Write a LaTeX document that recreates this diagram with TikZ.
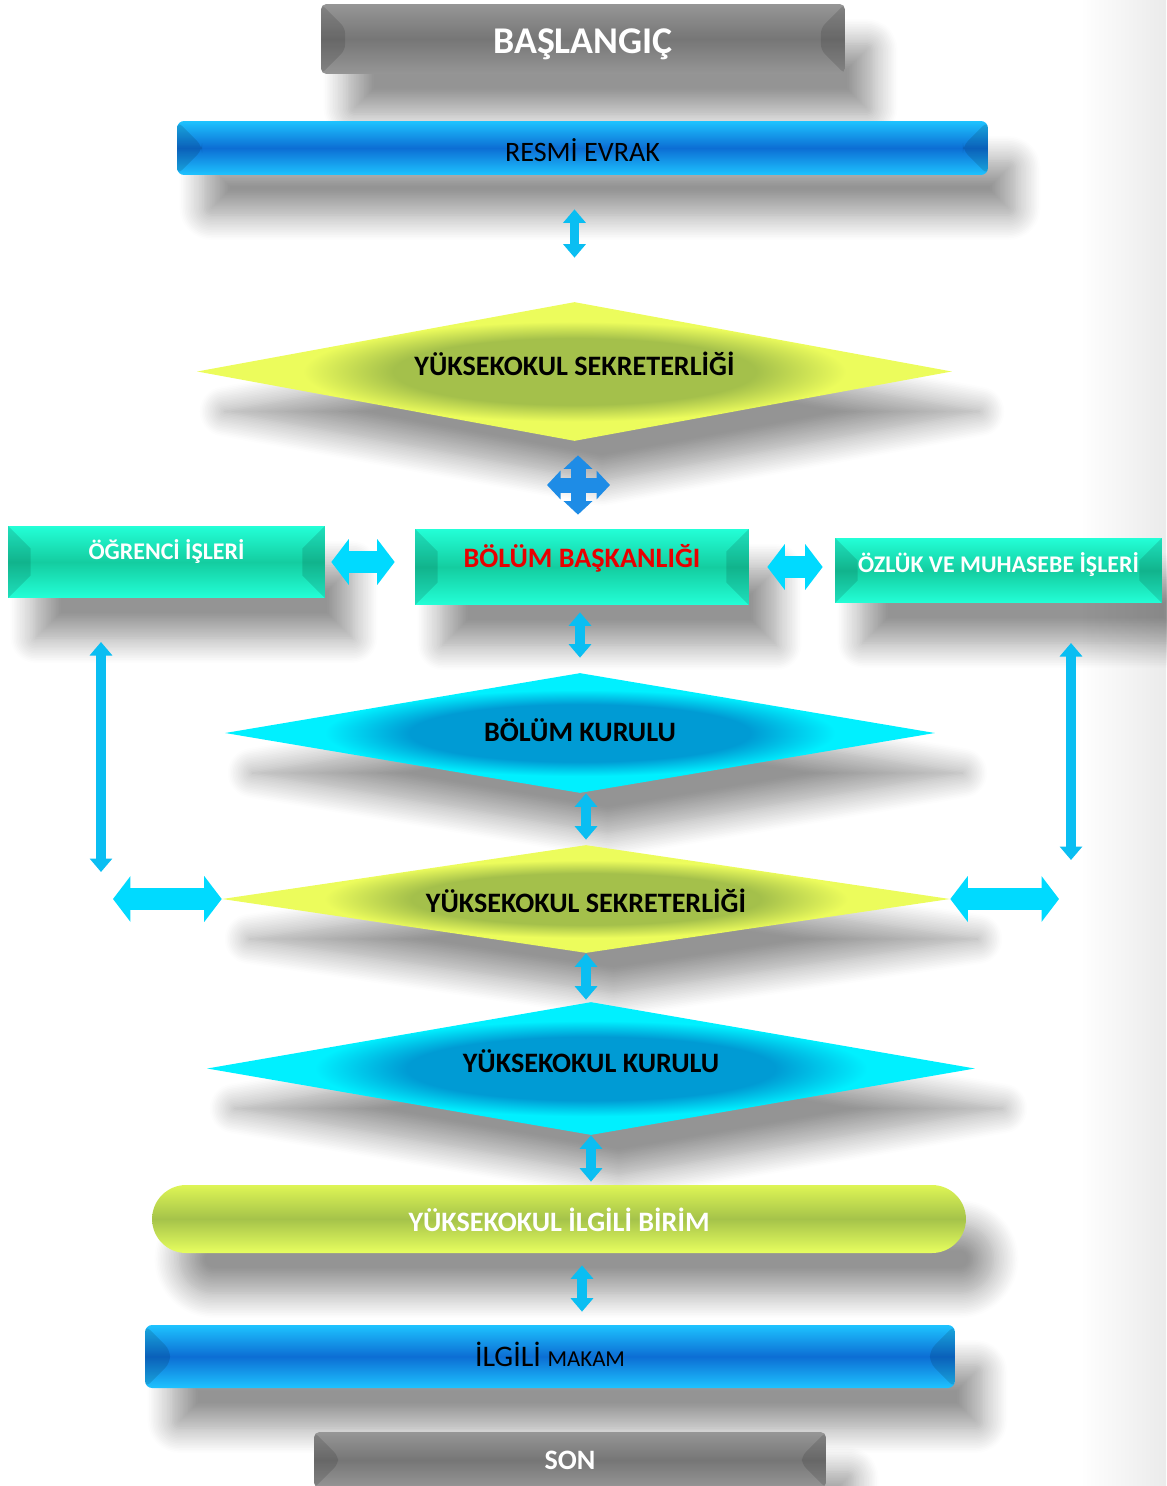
\documentclass[tikz,border=0pt]{standalone}
\usepackage{fontspec}
\setmainfont{Carlito}
\usetikzlibrary{shapes.geometric,arrows.meta,calc,shadows.blur}
\definecolor{grayhi}{RGB}{150,150,150}
\definecolor{graymid}{RGB}{118,118,118}
\definecolor{bluehi}{RGB}{30,195,255}
\definecolor{bluemid}{RGB}{12,110,212}
\definecolor{tealhi}{RGB}{35,255,215}
\definecolor{tealmid}{RGB}{20,205,160}
\definecolor{yelhi}{RGB}{236,252,92}
\definecolor{yelmid}{RGB}{164,192,75}
\definecolor{cyanhi}{RGB}{0,240,255}
\definecolor{cyanmid}{RGB}{0,155,212}
\definecolor{pillhi}{RGB}{222,245,85}
\definecolor{pillmid}{RGB}{165,195,74}
\definecolor{pilllo}{RGB}{232,255,95}
\definecolor{linkcyan}{RGB}{10,190,242}
\definecolor{fatcyan}{RGB}{0,218,255}
\definecolor{crossblue}{RGB}{30,140,230}
\definecolor{bolumred}{RGB}{232,0,0}
\newcommand{\fs}[1]{\fontsize{#1}{#1}\selectfont}
\pgfdeclareradialshading{yelglow}{\pgfpoint{0bp}{0bp}}{color(0bp)=(yelmid); color(12bp)=(yelmid); color(18bp)=(yelhi); color(50bp)=(yelhi)}
\pgfdeclareradialshading{cyanglow}{\pgfpoint{0bp}{0bp}}{color(0bp)=(cyanmid); color(12bp)=(cyanmid); color(18bp)=(cyanhi); color(50bp)=(cyanhi)}

\begin{document}
\begin{tikzpicture}[x=0.02cm,y=-0.02cm,
    shadowed/.style={blur shadow={shadow xshift=.55cm,shadow yshift=-.8cm,shadow blur radius=.5cm,shadow blur steps=16,shadow opacity=42}},
    bevelsides/.style={path picture={
        \fill[black,opacity=.12] (path picture bounding box.north west) -- ++(#1,-#1) -- ([shift={(#1,#1)}]path picture bounding box.south west) -- (path picture bounding box.south west) -- cycle;
        \fill[black,opacity=.12] (path picture bounding box.north east) -- ++(-#1,-#1) -- ([shift={(-#1,#1)}]path picture bounding box.south east) -- (path picture bounding box.south east) -- cycle;}},
    captext/.style={text height=.36cm,text depth=0cm},
    graybox/.style={shadowed,rounded corners=3pt,inner sep=0pt,top color=grayhi,bottom color=grayhi,middle color=graymid,bevelsides=.48cm,text=white,font=\bfseries\fs{16},captext},
    bluebox/.style={shadowed,rounded corners=4pt,inner sep=0pt,top color=bluehi,bottom color=bluehi,middle color=bluemid,bevelsides=.5cm,text=black,font=\fs{16},captext},
    tealbox/.style={shadowed,inner sep=0pt,top color=tealhi,bottom color=tealhi,middle color=tealmid,bevelsides=.45cm,text=white,font=\bfseries\fs{13.6},captext},
    yeldiam/.style={shadowed,diamond,inner sep=0pt,shading=yelglow,font=\bfseries\fs{16},captext},
    cyandiam/.style={shadowed,diamond,inner sep=0pt,shading=cyanglow,font=\bfseries\fs{16},captext},
    vlink/.style={draw=linkcyan,line width=.19cm,{Triangle[width=.44cm,length=.27cm]}-{Triangle[width=.44cm,length=.27cm]}},
    hlink/.style={draw=fatcyan,line width=.44cm,{Triangle[width=.9cm,length=.35cm]}-{Triangle[width=.9cm,length=.35cm]}},
    crosslink/.style={draw=crossblue,line width=.3cm,{Triangle[width=.56cm,length=.27cm]}-{Triangle[width=.56cm,length=.27cm]}}]
    \useasboundingbox (0,0) rectangle (1166,1486);
    \shade[left color=white,right color=gray!16] (1080,0) rectangle (1166,1486);
    % kutular
    \node[graybox,minimum width=10.48cm,minimum height=1.4cm,font=\bfseries\fs{21.5},text height=.57cm] (basla) at (583,39) {BAŞLANGIÇ};
    \node[bluebox,minimum width=16.22cm,minimum height=1.08cm,text height=.56cm] (resmi) at (582.5,148) {RESMİ EVRAK};
    \node[yeldiam,minimum width=15.1cm,minimum height=2.78cm,aspect=5.4,text depth=.18cm] (sekr1) at (574.5,371.5) {YÜKSEKOKUL SEKRETERLİĞİ};
    \node[tealbox,minimum width=6.34cm,minimum height=1.44cm,text height=.31cm,text depth=.4cm] (ogrenci) at (166.5,562) {ÖĞRENCİ İŞLERİ};
    \node[tealbox,minimum width=6.68cm,minimum height=1.52cm,text=bolumred,font=\bfseries\fs{16},text depth=.36cm] (bolum) at (582,567) {BÖLÜM BAŞKANLIĞI};
    \node[tealbox,minimum width=6.54cm,minimum height=1.3cm,text height=.31cm,text depth=.22cm] (ozluk) at (998.5,570.5) {ÖZLÜK VE MUHASEBE İŞLERİ};
    \node[cyandiam,minimum width=14.2cm,minimum height=2.4cm,aspect=5.9,text depth=.04cm] (bkurul) at (580,733) {BÖLÜM KURULU};
    \node[yeldiam,minimum width=14.56cm,minimum height=2.16cm,aspect=6.7,text height=.52cm] (sekr2) at (586,899) {YÜKSEKOKUL SEKRETERLİĞİ};
    \node[cyandiam,minimum width=15.36cm,minimum height=2.66cm,aspect=5.8,text depth=.2cm] (ykurul) at (591,1068.5) {YÜKSEKOKUL KURULU};
    \node[shadowed,rounded corners=.68cm,top color=pillhi,bottom color=pilllo,middle color=pillmid,minimum width=16.28cm,minimum height=1.36cm,text=white,font=\bfseries\fs{16},captext,text height=.48cm] (birim) at (559,1219) {YÜKSEKOKUL İLGİLİ BİRİM};
    \node[bluebox,minimum width=16.2cm,minimum height=1.26cm,font=\fs{17},text height=.38cm] (makam) at (550,1356.5) {İLGİLİ {\fs{13}MAKAM}};
    \node[graybox,minimum width=10.24cm,minimum height=1.12cm] (son) at (570,1460) {SON};
    % oklar
    \coordinate (kes) at (578,485);
    \coordinate (kesL) at (547,485);
    \coordinate (kesR) at (610,485);
    \coordinate (solU) at (101,642);
    \coordinate (solA) at (101,872);
    \coordinate (sagU) at (1071,643);
    \coordinate (sagA) at (1071,860);
    \coordinate (solO) at (113,902);
    \coordinate (sagO) at (1059,900);
    \draw[vlink,shorten <=.68cm,shorten >=.88cm] (sekr1.north |- resmi.south) -- (sekr1.north);
    \draw[crosslink,shorten <=.28cm,shorten >=.28cm] (sekr1.south -| kes) -- (bolum.north -| kes);
    \draw[crosslink] (kesL) -- (kesR);
    \draw[hlink,shorten <=.12cm,shorten >=.4cm] (ogrenci.east) -- (ogrenci.east -| bolum.west);
    \draw[hlink,shorten <=.36cm,shorten >=.24cm] (bolum.east) -- (bolum.east -| ozluk.west);
    \draw[vlink,shorten <=.14cm,shorten >=.3cm] (bkurul.north |- bolum.south) -- (bkurul.north);
    \draw[vlink,shorten >=.1cm] (sekr2.north |- bkurul.south) -- (sekr2.north);
    \draw[vlink,shorten >=.04cm] (sekr2.south) -- (sekr2.south |- ykurul.north);
    \draw[vlink,shorten >=.06cm] (ykurul.south) -- (ykurul.south |- birim.north);
    \draw[vlink,shorten <=.24cm,shorten >=.26cm] ([xshift=.46cm]birim.south) -- ([xshift=.46cm]birim.south |- makam.north);
    \draw[vlink] (solU) -- (solA);
    \draw[vlink] (sagU) -- (sagA);
    \draw[hlink] (solO |- sekr2.west) -- (sekr2.west);
    \draw[hlink] (sekr2.east) -- (sagO |- sekr2.east);
\end{tikzpicture}
\end{document}
